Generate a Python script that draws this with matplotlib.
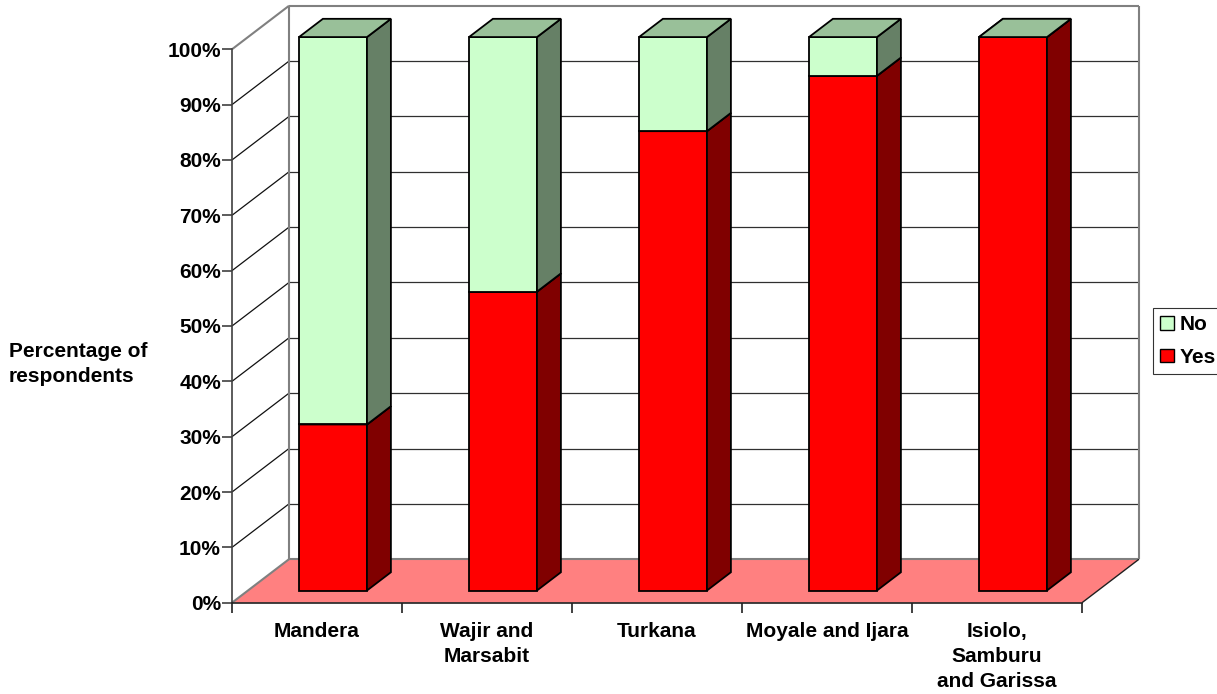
import matplotlib
matplotlib.use("Agg")
import matplotlib.pyplot as plt
from matplotlib.patches import Polygon, Patch
from matplotlib.ticker import FixedLocator, FixedFormatter

# ---- data -------------------------------------------------------------
regions = ["Mandera", "Wajir and\nMarsabit", "Turkana", "Moyale and Ijara",
           "Isiolo,\nSamburu\nand Garissa"]
yes_pct = [30, 54, 83, 93, 100]
no_pct = [70, 46, 17, 7, 0]
series_names = ["Yes", "No"]
y_ticks = [0, 10, 20, 30, 40, 50, 60, 70, 80, 90, 100]
y_tick_labels = [f"{v}%" for v in y_ticks]

# ---- styling ----------------------------------------------------------
FONT = "Liberation Sans"
FS = 15
face = {"Yes": "#FF0000", "No": "#CCFFCC"}
side = {"Yes": "#800000", "No": "#668066"}
top = {"Yes": "#BF0000", "No": "#99C099"}
FLOOR = "#FF8080"
WALL_EDGE = "#808080"

# oblique depth offset (data units) for the full depth of the plot box
DX = 57 / 170
DY = 7.86
BAR_W = 0.4
Z0, Z1 = 0.28, 0.70   # bar front / back depth fractions

n = len(regions)

fig = plt.figure(figsize=(12.17, 6.94), dpi=100)
ax = fig.add_axes([232 / 1217, (694 - 602.7) / 694,
                   (1139 - 232) / 1217, (602.7 - 5) / 694])
ax.set_xlim(0, n + DX)
ax.set_ylim(0, 100 + DY + 0.14)
ax.patch.set_visible(False)


def proj(x, y, z):
    return (x + z * DX, y + z * DY)


def line3(p, q, **kw):
    a, b = proj(*p), proj(*q)
    ax.plot([a[0], b[0]], [a[1], b[1]], solid_capstyle="butt",
            clip_on=False, **kw)


# floor
ax.add_patch(Polygon([proj(0, 0, 0), proj(n, 0, 0), proj(n, 0, 1), proj(0, 0, 1)],
                     closed=True, facecolor=FLOOR, edgecolor="none", zorder=1))
line3((0, 0, 1), (n, 0, 1), color=WALL_EDGE, lw=1.5, zorder=2)
line3((0, 0, 0), (0, 0, 1), color=WALL_EDGE, lw=1.5, zorder=2)
line3((n, 0, 0), (n, 0, 1), color="#202020", lw=1.0, zorder=2)

# gridlines on back wall and side wall
for v in y_ticks[1:-1]:
    line3((0, v, 1), (n, v, 1), color="#303030", lw=0.9, zorder=2)
    line3((0, v, 0), (0, v, 1), color="#101010", lw=0.9, zorder=2)

# wall outlines
line3((0, 0, 1), (0, 100, 1), color=WALL_EDGE, lw=1.5, zorder=2)
line3((0, 100, 0), (0, 100, 1), color=WALL_EDGE, lw=1.5, zorder=2)
line3((0, 100, 1), (n, 100, 1), color=WALL_EDGE, lw=1.5, zorder=2)
line3((n, 100, 1), (n, 0, 1), color=WALL_EDGE, lw=1.5, zorder=2)


def box(xl, xr, y0, y1, name):
    kw = dict(closed=True, edgecolor="black", linewidth=1.3, zorder=5,
              joinstyle="miter")
    front_pts = [proj(xl, y0, Z0), proj(xr, y0, Z0), proj(xr, y1, Z0), proj(xl, y1, Z0)]
    side_pts = [proj(xr, y0, Z0), proj(xr, y0, Z1), proj(xr, y1, Z1), proj(xr, y1, Z0)]
    top_pts = [proj(xl, y1, Z0), proj(xr, y1, Z0), proj(xr, y1, Z1), proj(xl, y1, Z1)]
    ax.add_patch(Polygon(front_pts, facecolor=face[name], **kw))
    ax.add_patch(Polygon(side_pts, facecolor=side[name], **kw))
    ax.add_patch(Polygon(top_pts, facecolor=top[name], **kw))


for i in range(n):
    xl = i + 0.5 - BAR_W / 2
    xr = i + 0.5 + BAR_W / 2
    box(xl, xr, 0, yes_pct[i], "Yes")
    box(xl, xr, yes_pct[i], yes_pct[i] + no_pct[i], "No")

# axes: front vertical value axis and category axis
for s in ("top", "right"):
    ax.spines[s].set_visible(False)
ax.spines["left"].set_bounds(0, 100)
ax.spines["left"].set_color("#404040")
ax.spines["left"].set_linewidth(1.2)
ax.spines["bottom"].set_bounds(0, n)
ax.spines["bottom"].set_color("#202020")
ax.spines["bottom"].set_linewidth(1.2)
ax.spines["left"].set_zorder(3)
ax.spines["bottom"].set_zorder(3)

ax.yaxis.set_major_locator(FixedLocator(y_ticks))
ax.yaxis.set_major_formatter(FixedFormatter(y_tick_labels))
ax.tick_params(axis="y", direction="out", length=7, width=1.2, color="#404040", pad=1)
for lab in ax.get_yticklabels():
    lab.set_fontfamily(FONT)
    lab.set_fontweight("bold")
    lab.set_fontsize(FS)

ax.xaxis.set_major_locator(FixedLocator(list(range(n + 1))))
ax.xaxis.set_major_formatter(FixedFormatter([""] * (n + 1)))
ax.xaxis.set_minor_locator(FixedLocator([i + 0.5 for i in range(n)]))
ax.xaxis.set_minor_formatter(FixedFormatter(regions))
ax.tick_params(axis="x", which="major", direction="out", length=7, width=1.2, color="#202020")
ax.tick_params(axis="x", which="minor", length=0, pad=14)
for lab in ax.get_xticklabels(minor=True):
    lab.set_fontfamily(FONT)
    lab.set_fontweight("bold")
    lab.set_fontsize(FS)
    lab.set_multialignment("center")
    lab.set_linespacing(1.4)

fig.text(9 / 1217, (694 - 364) / 694, "Percentage of\nrespondents",
         ha="left", va="center", fontfamily=FONT, fontweight="bold",
         fontsize=FS, linespacing=1.4)

handles = [Patch(facecolor=face["No"], edgecolor="black", linewidth=1.0, label="No"),
           Patch(facecolor=face["Yes"], edgecolor="black", linewidth=1.0, label="Yes")]
leg = fig.legend(handles=handles, loc="upper left",
                 bbox_to_anchor=(1153 / 1217, (694 - 308) / 694),
                 borderaxespad=0, frameon=True, fancybox=False, shadow=False,
                 handlelength=0.65, handleheight=0.65, handletextpad=0.3,
                 borderpad=0.35, labelspacing=0.65,
                 prop={"family": FONT, "weight": "bold", "size": FS})
leg.get_frame().set_edgecolor("black")
leg.get_frame().set_linewidth(0.8)

fig.savefig("out.png", dpi=100)
